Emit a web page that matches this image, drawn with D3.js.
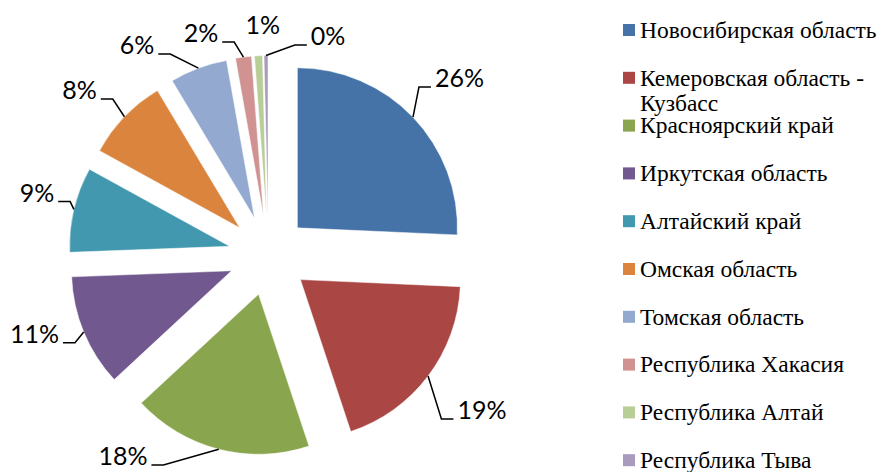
<!DOCTYPE html>
<html lang="ru">
<head>
<meta charset="utf-8">
<script src="https://cdn.jsdelivr.net/npm/d3@7"></script>
<style>
  html, body { margin: 0; padding: 0; background: #fff; }
  svg { display: block; }
</style>
</head>
<body>
<svg id="chart" width="883" height="472"></svg>
<script>
// Regions of the Siberian Federal District and their shares, %
const regions = [
  "Новосибирская область",
  "Кемеровская область - Кузбасс",
  "Красноярский край",
  "Иркутская область",
  "Алтайский край",
  "Омская область",
  "Томская область",
  "Республика Хакасия",
  "Республика Алтай",
  "Республика Тыва"
];
const shares = [25.7, 19.2, 18.2, 11.3, 8.6, 8.4, 5.8, 1.6, 0.8, 0.4];
const colors = ["#4572A7", "#AA4643", "#89A54E", "#71588F", "#4198AF",
                "#DB843D", "#93A9CF", "#D19392", "#B9CD96", "#A99BBD"];

// Data-label placement: angle (deg, clockwise from 12 o'clock) and distance from the pie centre
const labelAngle  = [47.1, 125.9, 216, 251.5, 285.2, 311.2, 328, 343.1, 358.6, 15.2];
const labelRadius = [260.7, 263.5, 247.7, 246.8, 240, 251.2, 248.2, 232.5, 230.6, 227.4];
// Leader lines are drawn for every label except the one sitting right next to its slice
const leaderShown = [true, true, true, true, true, true, true, true, false, true];

const svg = d3.select("#chart");
const cx = 268.5, cy = 255.5, R = 160, explode = 40;
const total = d3.sum(shares);
const pct = d3.format(".0%");

const pie = d3.pie().sort(null).value(d => d.v);
const arcs = pie(shares.map((v, i) => ({ v, i })));
const arc = d3.arc().innerRadius(0).outerRadius(R);

const polar = (a, r) => [Math.sin(a) * r, -Math.cos(a) * r];

const g = svg.append("g").attr("transform", `translate(${cx},${cy})`);

// exploded slices
g.selectAll("path.slice")
  .data(arcs)
  .join("path")
  .attr("class", "slice")
  .attr("transform", d => {
    const [ox, oy] = polar((d.startAngle + d.endAngle) / 2, explode);
    return `translate(${ox},${oy})`;
  })
  .attr("d", arc)
  .attr("fill", d => colors[d.index])
  .attr("stroke", "#ffffff")
  .attr("stroke-opacity", 0.6)
  .attr("stroke-width", 0.8);

// data labels with leader lines
const labelFont = "Lato, 'Open Sans', sans-serif";
const labels = g.append("g");
arcs.forEach((d, i) => {
  const mid = (d.startAngle + d.endAngle) / 2;
  const [sx, sy] = polar(mid, R + explode);
  const [lx, ly] = polar(labelAngle[i] * Math.PI / 180, labelRadius[i]);
  const t = labels.append("text")
    .attr("x", lx)
    .attr("y", ly + 9)
    .attr("text-anchor", "middle")
    .attr("font-family", labelFont)
    .attr("font-size", 25)
    .attr("fill", "#000")
    .text(pct(d.data.v / total));
  if (!leaderShown[i]) return;
  const bb = t.node().getBBox();
  const left = bb.x, right = bb.x + bb.width;
  const onRight = lx > sx;
  const yLine = ly + 9;
  const hx = onRight ? left - 4 : right + 4;
  const ex = onRight ? hx - 12 : hx + 12;
  labels.append("path")
    .attr("d", d3.line()([[sx, sy], [ex, yLine], [hx, yLine]]))
    .attr("fill", "none")
    .attr("stroke", "#000")
    .attr("stroke-width", 1.5);
});

// legend
const legend = svg.append("g").attr("transform", "translate(623,30)");
const rowStep = 47.8, lineH = 25, maxW = 260;
regions.forEach((name, i) => {
  const row = legend.append("g").attr("transform", `translate(0,${i * rowStep})`);
  row.append("rect")
    .attr("x", 0).attr("y", -6)
    .attr("width", 12).attr("height", 12)
    .attr("fill", colors[i]);
  const text = row.append("text")
    .attr("font-family", "'Liberation Serif', 'Times New Roman', serif")
    .attr("font-size", 23.5)
    .attr("fill", "#000");
  // simple word wrap
  const words = name.split(" ");
  let line = [], lineNo = 0;
  let tspan = text.append("tspan").attr("x", 17).attr("y", 7.8);
  words.forEach(w => {
    line.push(w);
    tspan.text(line.join(" "));
    if (tspan.node().getComputedTextLength() > maxW - 17 && line.length > 1) {
      line.pop();
      tspan.text(line.join(" "));
      line = [w];
      lineNo++;
      tspan = text.append("tspan").attr("x", 17).attr("y", 7.8 + lineNo * lineH).text(w);
    }
  });
});
</script>
</body>
</html>
